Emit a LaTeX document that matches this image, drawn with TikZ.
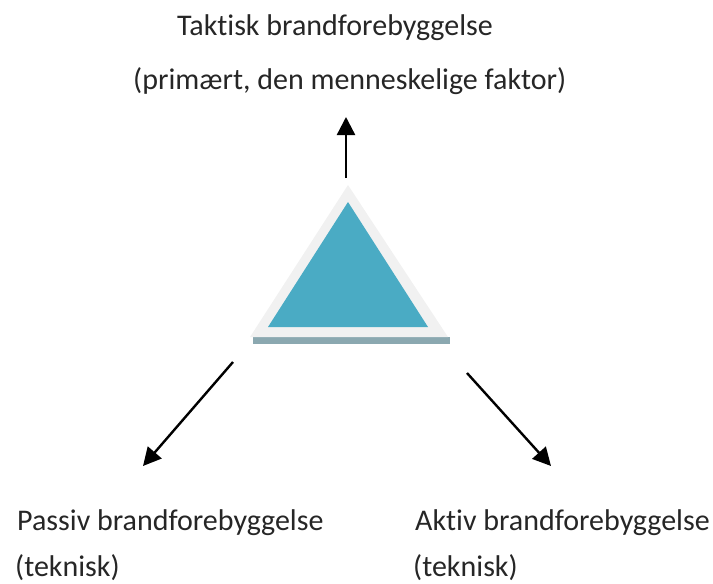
\documentclass[tikz,border=0pt]{standalone}
\usepackage{fontspec}
\setmainfont[Ligatures=NoCommon]{Carlito}
\usetikzlibrary{arrows.meta}
\usetikzlibrary{positioning}
\definecolor{trigrey}{RGB}{241,241,241}
\definecolor{triblue}{RGB}{74,171,196}
\definecolor{tribar}{RGB}{139,168,176}
\definecolor{txtgrey}{RGB}{38,38,38}

\begin{document}
\begin{tikzpicture}[x=1pt,y=-1pt]
    \useasboundingbox (0,0) rectangle (713,584);

        % the triangle in the middle, use the tuple for location
        \coordinate (Top) at (348,185);
        \coordinate (BL) at (250,337);
        \coordinate (BR) at (448,337);
        \coordinate (iTop) at (348,202);
        \coordinate (iBL) at (268,327);
        \coordinate (iBR) at (428,327);
        \fill[tribar] (253,337) rectangle (450,344);
        \fill[trigrey] (Top) -- (BL) -- (BR) -- cycle;
        \fill[triblue] (iTop) -- (iBL) -- (iBR) -- cycle;

        % labels
        \begin{scope}[every node/.style={anchor=base west,inner sep=0pt,
                      text=txtgrey,font=\fontsize{30}{34}\selectfont}]
        \node (T1) at (177,35) {Taktisk brandforebyggelse};
        \node (T2) at (133,89) {(primært, den menneskelige faktor)};
        \node (P1) at (17,530) {Passiv brandforebyggelse};
        \node (P2) at (15,576) {(teknisk)};
        \node (A1) at (415,530) {Aktiv brandforebyggelse};
        \node (A2) at (413,576) {(teknisk)};
        \end{scope}

        % arrow ends
        \coordinate (upS) at (346,178);
        \coordinate (upE) at (346,117);
        \coordinate (leftS) at (233,362);
        \coordinate (leftE) at (143,466);
        \coordinate (rightS) at (467,373);
        \coordinate (rightE) at (551,466);

        % arrows
        \begin{scope}[>={Triangle[length=18pt,width=18pt]},
                  every edge/.style={draw=black, line width=2.4pt}]
        \path [->] (upS) edge[] (upE);
        \path [->] (leftS) edge[] (leftE);
        \path [->] (rightS) edge[] (rightE);
        \end{scope}

\end{tikzpicture}
\end{document}
